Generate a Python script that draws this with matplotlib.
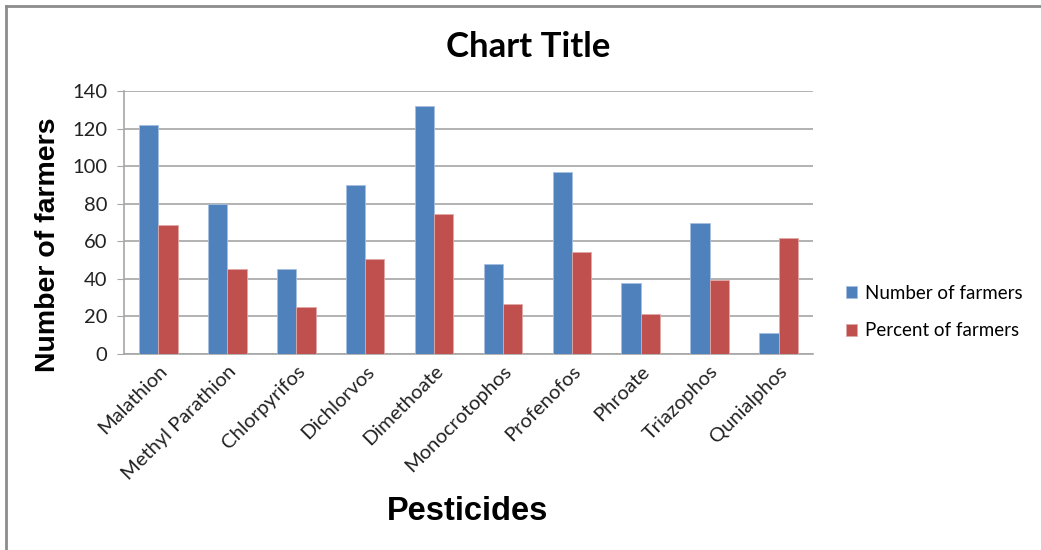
import matplotlib.pyplot as plt
from matplotlib.lines import Line2D
import numpy as np

# pesticide survey data
pesticides = ['Malathion', 'Methyl Parathion', 'Chlorpyrifos', 'Dichlorvos', 'Dimethoate',
              'Monocrotophos', 'Profenofos', 'Phroate', 'Triazophos', 'Qunialphos']
num_farmers = [122, 80, 45, 90, 132, 48, 97, 38, 70, 11]
pct_farmers = [68.6, 45, 25.2, 50.7, 74.3, 26.8, 54.2, 21.2, 39.3, 61.9]

blue = '#4f81bd'
red = '#c0504d'
W, H = 1041, 550

fig = plt.figure(figsize=(W / 100, H / 100), dpi=100)
ax = fig.add_axes([124 / W, 1 - 354 / H, (813 - 124) / W, (354 - 91) / H])

x = np.arange(len(pesticides))
bw = 0.28
ax.bar(x - bw / 2, num_farmers, bw, color=blue, edgecolor='#a8c0e0', linewidth=0.6,
       label='Number of farmers', zorder=3)
ax.bar(x + bw / 2, pct_farmers, bw, color=red, edgecolor='#e0a8a6', linewidth=0.6,
       label='Percent of farmers', zorder=3)

ax.set_xlim(-0.5, len(pesticides) - 0.5)
ax.set_ylim(0, 140)
ax.set_yticks(range(0, 141, 20))
ax.yaxis.grid(True, color='#a6a6a6', linewidth=1.2, zorder=0)
for s in ['top', 'right']:
    ax.spines[s].set_visible(False)
for s in ['left', 'bottom']:
    ax.spines[s].set_color('#a6a6a6')
    ax.spines[s].set_linewidth(1.2)
ax.tick_params(axis='y', length=5, color='#a6a6a6', labelsize=14.5, pad=7, labelcolor='#222222')
ax.tick_params(axis='x', length=0, labelsize=14.5, pad=6, labelcolor='#222222')
ax.set_xticks(x)
ax.set_xticklabels(pesticides, rotation=45, ha='right', rotation_mode='anchor')
for lab in ax.get_xticklabels() + ax.get_yticklabels():
    lab.set_fontfamily('Lato')

# titles
fig.text(528 / W, 1 - 47 / H, 'Chart Title', ha='center', va='center',
         fontsize=25, fontweight='bold', family='Lato')
fig.text(48 / W, 1 - 245 / H, 'Number of farmers', ha='center', va='center', rotation=90,
         fontsize=20.5, fontweight='bold', family='Liberation Sans')
fig.text(468 / W, 1 - 511 / H, 'Pesticides', ha='center', va='center',
         fontsize=23.5, fontweight='bold', family='Liberation Sans')

fig.legend(loc='center left', bbox_to_anchor=(829 / W, 1 - 312 / H), frameon=False,
           prop={'family': 'Lato', 'size': 13.5}, handlelength=0.6, handleheight=0.6,
           handletextpad=0.4, labelspacing=1.1)

# chart frame (top and left edges)
fig.add_artist(Line2D([6 / W, 6 / W], [0, 1 - 6 / H], color='#8c8c8c', linewidth=2))
fig.add_artist(Line2D([6 / W, 1], [1 - 6 / H, 1 - 6 / H], color='#8c8c8c', linewidth=2))

fig.savefig('out.png', dpi=100)
